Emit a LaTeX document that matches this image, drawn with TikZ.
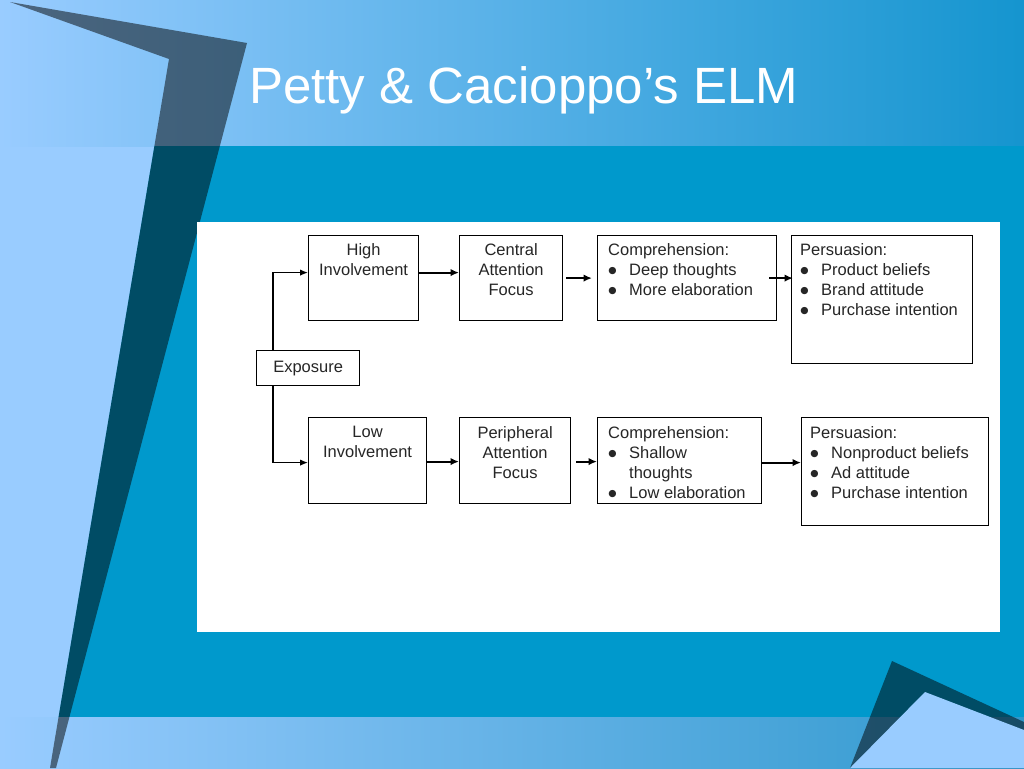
\documentclass[tikz,border=0pt]{standalone}
\usepackage{fontspec}
\setmainfont{Liberation Sans}
\newfontfamily\dejavu{DejaVu Sans}
\usetikzlibrary{arrows.meta}
\definecolor{lightbg}{HTML}{99CCFF}
\definecolor{tealbg}{HTML}{0099CC}
\definecolor{titleR}{HTML}{1595CF}
\definecolor{botR}{HTML}{2F98CD}
\definecolor{txtgray}{HTML}{262626}
\newcommand\bul{\makebox[21pt][l]{\hspace{0.2pt}\raisebox{1.6pt}{\dejavu\fontsize{9.5}{9.5}\selectfont ●}}}
\begin{document}
\begin{tikzpicture}[x=1pt,y=-1pt,
  box/.style={draw=black, line width=1.2pt, inner sep=0pt, anchor=north west, fill=white},
  txt/.style={inner sep=0pt, text=txtgray, font=\fontsize{16.5}{20}\selectfont},
  arr/.style={line width=2pt, -{Latex[length=8.5pt,width=7.5pt]}},
  elbow/.style={line width=1.4pt, -{Latex[length=8pt,width=6.5pt]}}]
\useasboundingbox (0,0) rectangle (1024,768);
% background
\fill[lightbg] (0,0) rectangle (1024,768);
\shade[left color=lightbg, right color=titleR] (0,0) rectangle (1024,146);
\fill[tealbg] (154.4,146) -- (1024,146) -- (1024,717) -- (58.6,717) -- cycle;
\shade[left color=lightbg, right color=botR] (0,717) rectangle (1024,768);
\fill[black, opacity=0.5] (10,2) -- (247,43) -- (56,768) -- (50,768) -- (169,59) -- cycle;
\fill[black, opacity=0.5] (892,661) -- (1024,722) -- (1024,768) -- (850,768) -- cycle;
\fill[lightbg] (925,692) -- (1024,730) -- (1024,768) -- (850,768) -- cycle;
% title
\node[anchor=base west, inner sep=0pt, text=white, font=\fontsize{51}{60}\selectfont] (title) at (249,103) {Petty \& Cacioppo’s ELM};
% white panel
\fill[white] (197,222) rectangle (1000,632);
% boxes
\node[box, minimum width=110pt, minimum height=85pt] (hi) at (308,235) {};
\node[box, minimum width=103pt, minimum height=85pt] (cen) at (459,235) {};
\node[box, minimum width=179pt, minimum height=85pt] (compT) at (597,235) {};
\node[box, minimum width=181pt, minimum height=128pt] (persT) at (791,235) {};
\node[box, minimum width=103pt, minimum height=35pt] (expo) at (256,350) {};
\node[box, minimum width=118pt, minimum height=86pt] (low) at (308,417) {};
\node[box, minimum width=111pt, minimum height=86pt] (peri) at (459,417) {};
\node[box, minimum width=164pt, minimum height=86pt] (compB) at (597,417) {};
\node[box, minimum width=187pt, minimum height=108pt] (persB) at (801,417) {};
% texts
\node[txt, align=center, anchor=north] (hiT) at ([yshift=-8pt]hi.north) {High\\Involvement};
\node[txt, align=center, anchor=north] (cenT) at ([yshift=-8pt]cen.north) {Central\\Attention\\Focus};
\node[txt, align=left, anchor=north west] (compTT) at ([xshift=11pt,yshift=-8pt]compT.north west) {Comprehension:\\\bul Deep thoughts\\\bul More elaboration};
\node[txt, align=left, anchor=north west] (persTT) at ([xshift=9pt,yshift=-8pt]persT.north west) {Persuasion:\\\bul Product beliefs\\\bul Brand attitude\\\bul Purchase intention};
\node[txt] (expoT) at (expo.center) {Exposure};
\node[txt, align=center, anchor=north] (lowT) at ([yshift=-9pt]low.north) {Low\\Involvement};
\node[txt, align=center, anchor=north] (periT) at ([yshift=-9pt]peri.north) {Peripheral\\Attention\\Focus};
\node[txt, align=left, anchor=north west] (compBT) at ([xshift=11pt,yshift=-9pt]compB.north west) {Comprehension:\\\bul Shallow\\\hspace*{21pt}thoughts\\\bul Low elaboration};
\node[txt, align=left, anchor=north west] (persBT) at ([xshift=9pt,yshift=-9pt]persB.north west) {Persuasion:\\\bul Nonproduct beliefs\\\bul Ad attitude\\\bul Purchase intention};
% connectors
\coordinate (eTop) at ([xshift=17pt]expo.north west);
\coordinate (eBot) at ([xshift=17pt]expo.south west);
\draw[elbow] (eTop) |- ([yshift=5.5pt]hi.west);
\draw[elbow] (eBot) |- ([yshift=-2pt]low.west);
\draw[arr] ([yshift=5.5pt]hi.east) -- ([yshift=5.5pt]cen.west);
\draw[arr] ([xshift=3pt]cen.east) -- ([xshift=-5pt]compT.west);
\draw[arr] ([xshift=-8pt]compT.east) -- ([xshift=2pt]persT.west |- compT.east);
\draw[arr] ([yshift=-1pt]low.east) -- ([yshift=-1pt]peri.west);
\draw[arr] ([xshift=5pt,yshift=-1pt]peri.east) -- ([yshift=-1pt]compB.west);
\draw[arr] ([yshift=-2pt]compB.east) -- ([yshift=-2pt]persB.west |- compB.east);
\end{tikzpicture}
\end{document}
